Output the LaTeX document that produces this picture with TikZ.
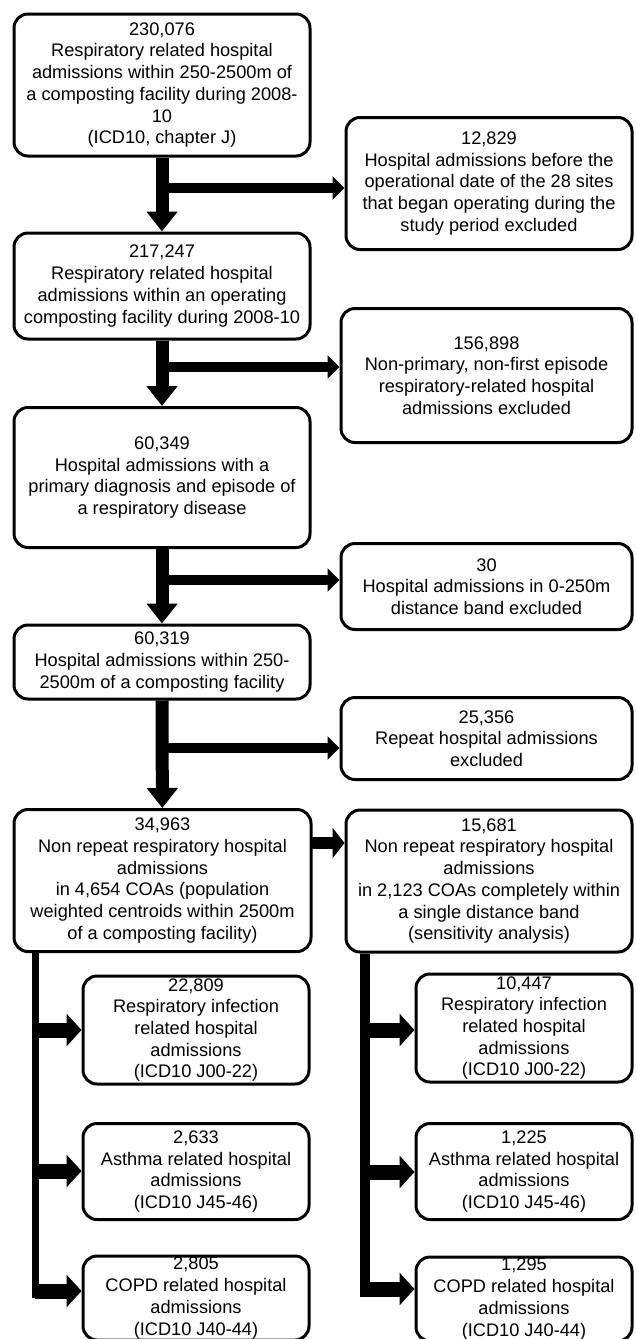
\documentclass[tikz,border=0pt]{standalone}
\usepackage{fontspec}
\setmainfont{Liberation Sans}
\usetikzlibrary{arrows.meta}

\begin{document}
\begin{tikzpicture}[x=0.5pt,y=-0.5pt]

        \useasboundingbox (0,0) rectangle (636,1339);

        \begin{scope}[every node/.style={draw,line width=1.5pt,rounded corners=7pt,align=center,inner sep=0pt,font=\fontsize{9.1pt}{10.85pt}\selectfont}]
          \node[minimum width=148pt,minimum height=71pt]   (1)  at (162,85)     {230,076\\Respiratory related hospital\\admissions within 250-2500m of\\a composting facility during 2008-\\10\\(ICD10, chapter J)};
          \node[minimum width=143pt,minimum height=66pt]   (2)  at (489,183.5)  {12,829\\Hospital admissions before the\\operational date of the 28 sites\\that began operating during the\\study period excluded};
          \node[minimum width=148pt,minimum height=53pt]   (3)  at (162,286)    {217,247\\Respiratory related hospital\\admissions within an operating\\composting facility during 2008-10};
          \node[minimum width=145.5pt,minimum height=67pt] (4)  at (486.5,375.5) {156,898\\Non-primary, non-first episode\\respiratory-related hospital\\admissions excluded};
          \node[minimum width=148pt,minimum height=70pt]   (5)  at (162,477.5)  {60,349\\Hospital admissions with a\\primary diagnosis and episode of\\a respiratory disease};
          \node[minimum width=145.5pt,minimum height=43pt] (6)  at (486.5,586.5) {30\\Hospital admissions in 0-250m\\distance band excluded};
          \node[minimum width=148pt,minimum height=37pt]   (7)  at (162,662)    {60,319\\Hospital admissions within 250-\\2500m of a composting facility};
          \node[minimum width=145.5pt,minimum height=41pt] (8)  at (486.5,738.5) {25,356\\Repeat hospital admissions\\excluded};
          \node[minimum width=148.5pt,minimum height=71pt] (9)  at (162.5,880.5) {34,963\\Non repeat respiratory hospital\\admissions\\in 4,654 COAs (population\\weighted centroids within 2500m\\of a composting facility)};
          \node[minimum width=143pt,minimum height=71pt]   (10) at (489,881)    {15,681\\Non repeat respiratory hospital\\admissions\\in 2,123 COAs completely within\\a single distance band\\(sensitivity analysis)};
          \node[minimum width=113pt,minimum height=54pt]   (11) at (196,1030)   {22,809\\Respiratory infection\\related hospital\\admissions\\(ICD10 J00-22)};
          \node[minimum width=113pt,minimum height=48pt]   (12) at (196,1171.5) {2,633\\Asthma related hospital\\admissions\\(ICD10 J45-46)};
          \node[minimum width=113pt,minimum height=42pt]   (13) at (196,1298)   {2,805\\COPD related hospital\\admissions\\(ICD10 J40-44)};
          \node[minimum width=108pt,minimum height=54pt]   (14) at (524,1028)   {10,447\\Respiratory infection\\related hospital\\admissions\\(ICD10 J00-22)};
          \node[minimum width=108pt,minimum height=48pt]   (15) at (524,1171.5) {1,225\\Asthma related hospital\\admissions\\(ICD10 J45-46)};
          \node[minimum width=108pt,minimum height=42pt]   (16) at (524,1299)   {1,295\\COPD related hospital\\admissions\\(ICD10 J40-44)};
        \end{scope}

        \coordinate (s1) at (161,188);
        \coordinate (s2) at (161,367);
        \coordinate (s3) at (161,580);
        \coordinate (s4) at (161,748);
        \coordinate (s5) at (312,843);
        \coordinate (l1) at (35,1030);
        \coordinate (l2) at (35,1171);
        \coordinate (l3) at (35,1291);
        \coordinate (r1) at (365,1030);
        \coordinate (r2) at (365,1172);
        \coordinate (r3) at (365,1289);

        \begin{scope}[line width=6.5pt,-{Triangle[width=15pt,length=10pt]}]
          \draw (1) -- (3);
          \draw (3) -- (5);
          \draw (5) -- (7);
          \draw (7) -- (9);
        \end{scope}

        \begin{scope}[line width=5pt,-{Triangle[width=11.5pt,length=6pt]}]
          \draw (s1) -- (s1 -| 2.west);
          \draw (s2) -- (s2 -| 4.west);
          \draw (s3) -- (s3 -| 6.west);
          \draw (s4) -- (s4 -| 8.west);
        \end{scope}

        \draw[line width=6pt,-{Triangle[width=15pt,length=6pt]}] (s5) -- (s5 -| 10.west);

        \draw[line width=3.5pt] (9.south -| l3) -- ([yshift=-3.5pt]l3);
        \draw[line width=5pt] (10.south -| r3) -- ([yshift=-3.75pt]r3);

        \begin{scope}[line width=7.5pt,-{Triangle[width=16pt,length=7.5pt]}]
          \draw (l1) -- (l1 -| 11.west);
          \draw (l2) -- (l2 -| 12.west);
          \draw (l3) -- (l3 -| 13.west);
          \draw (r1) -- (r1 -| 14.west);
          \draw (r2) -- (r2 -| 15.west);
          \draw (r3) -- (r3 -| 16.west);
        \end{scope}

      \end{tikzpicture}
\end{document}
